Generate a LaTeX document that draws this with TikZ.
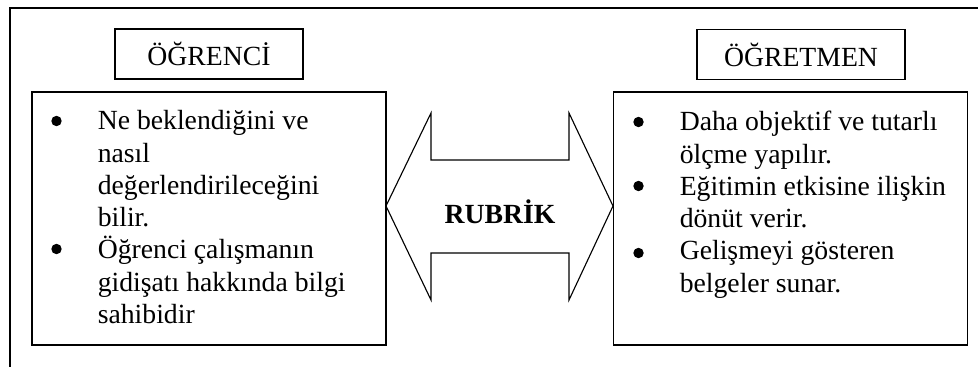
\documentclass[tikz,border=0pt]{standalone}
\usepackage{fontspec}
\setmainfont{Liberation Serif}
\usetikzlibrary{calc}
\newcommand{\govdeyazi}{\fontsize{19.7pt}{22.9pt}\selectfont}

\begin{document}
\begin{tikzpicture}[x=0.025cm,y=-0.025cm,
    baslik/.style={draw,line width=1pt,minimum height=1.25cm,inner sep=0pt,font=\govdeyazi},
    kutu/.style={draw,line width=1pt,minimum width=8.85cm,minimum height=6.325cm,inner sep=0pt},
    madde/.style={anchor=base west,inner sep=0pt,font=\govdeyazi},
    nokta/.style={circle,fill,inner sep=0pt,minimum size=0.26cm}]
    \useasboundingbox (0,0) rectangle (978,367);

    % outer frame (cut at right and bottom)
    \draw[line width=1.4pt] (10,367) -- (10,8) -- (978,8);

    \node (ogrenci) at (209,54) [baslik,minimum width=4.7cm] {ÖĞRENCİ};
    \node (ogretmen) at (801,54.5) [baslik,minimum width=5.2cm] {ÖĞRETMEN};

    \node (solkutu) at (209,218.5) [kutu] {};
    \node (sagkutu) at (790.5,218.5) [kutu] {};

    % bullets
    \foreach \y [count=\i] in {121,249} {
        \node (solnokta\i) at (56.5,\y) [nokta] {};
    }
    \foreach \y [count=\i] in {122,186,253} {
        \node (sagnokta\i) at (638.5,\y) [nokta] {};
    }

    \node (solmadde) at (97.5,130) [madde] {%
        \begin{tabular}[t]{@{}l@{}}
        Ne beklendiğini ve\\
        nasıl\\
        değerlendirileceğini\\
        bilir.\\
        Öğrenci çalışmanın\\
        gidişatı hakkında bilgi\\
        sahibidir
        \end{tabular}};
    \node (sagmadde) at (679.5,131) [madde] {%
        \begin{tabular}[t]{@{}l@{}}
        Daha objektif ve tutarlı\\
        ölçme yapılır.\\
        Eğitimin etkisine ilişkin\\
        dönüt verir.\\
        Gelişmeyi gösteren\\
        belgeler sunar.
        \end{tabular}};

    % double arrow between the boxes
    \draw[line width=0.8pt,line join=miter] (386,206) -- (431,113) -- (431,160) -- (569,160) -- (569,113)
        -- (613,206) -- (569,300) -- (569,253) -- (431,253) -- (431,300) -- cycle;
    \node (rubrik) at (500,223) [anchor=base,inner sep=0pt,font=\bfseries\govdeyazi] {RUBRİK};
\end{tikzpicture}
\end{document}
